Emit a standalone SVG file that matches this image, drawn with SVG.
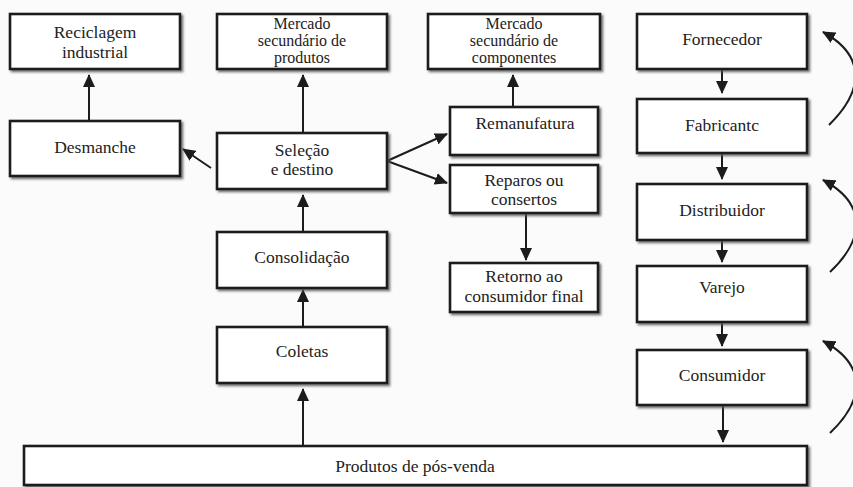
<svg xmlns="http://www.w3.org/2000/svg" width="853" height="487" viewBox="0 0 853 487" font-family="Liberation Serif, serif" font-size="17.5" text-anchor="middle">
<defs>
<style>
.box{fill:#ffffff;stroke:#1c1c1c;stroke-width:2.6;filter:url(#sh)}
text{fill:#222}
.s{font-size:16px}
.c{fill:none;stroke:#1c1c1c;stroke-width:2;marker-end:url(#ah)}
</style>
<filter id="sh" x="-5%" y="-10%" width="115%" height="130%">
<feDropShadow dx="2" dy="2" stdDeviation="1.2" flood-color="#555" flood-opacity="0.8"/>
</filter>
<marker id="ah" viewBox="0 0 13 12" refX="12" refY="6" markerWidth="13" markerHeight="12" markerUnits="userSpaceOnUse" orient="auto">
<path d="M0,0 L13,6 L0,12 z" fill="#1c1c1c"/>
</marker>
</defs>
<rect width="853" height="487" fill="#fbfbfb"/>

<g id="connectors">
<line class="c" x1="89" y1="121" x2="89" y2="75"/>
<line class="c" x1="303" y1="133" x2="303" y2="75"/>
<line class="c" x1="211" y1="168" x2="183" y2="149"/>
<line class="c" x1="303" y1="232" x2="303" y2="195"/>
<line class="c" x1="303" y1="327" x2="303" y2="290"/>
<line class="c" x1="303" y1="446" x2="303" y2="389"/>
<line class="c" x1="387" y1="161" x2="447" y2="134"/>
<line class="c" x1="387" y1="161" x2="447" y2="183"/>
<line class="c" x1="513" y1="107" x2="513" y2="75"/>
<line class="c" x1="526" y1="213" x2="526" y2="260"/>
<line class="c" x1="722" y1="69" x2="722" y2="93"/>
<line class="c" x1="722" y1="153" x2="722" y2="179"/>
<line class="c" x1="722" y1="240" x2="722" y2="262"/>
<line class="c" x1="722" y1="322" x2="722" y2="346"/>
<line class="c" x1="723" y1="405" x2="723" y2="442"/>
<path class="c" d="M829,125 C865,90 865,55 823,32"/>
<path class="c" d="M830,272 C866,238 866,203 823,180"/>
<path class="c" d="M830,433 C866,399 866,364 823,341"/>
</g>

<g id="reciclagem"><rect class="box" x="10" y="14" width="170" height="55"/>
<text x="95" y="38">Reciclagem</text><text x="95" y="58">industrial</text></g>

<g id="mercado-produtos"><rect class="box" x="217" y="14" width="170" height="55"/>
<text class="s" x="302" y="29">Mercado</text><text class="s" x="302" y="46">secundário de</text><text class="s" x="302" y="63">produtos</text></g>

<g id="mercado-componentes"><rect class="box" x="428" y="14" width="172" height="55"/>
<text class="s" x="514" y="29">Mercado</text><text class="s" x="514" y="46">secundário de</text><text class="s" x="514" y="63">componentes</text></g>

<g id="desmanche"><rect class="box" x="10" y="121" width="170" height="55"/>
<text x="95" y="153">Desmanche</text></g>

<g id="selecao"><rect class="box" x="217" y="133" width="170" height="56"/>
<text x="302" y="156">Seleção</text><text x="302" y="175">e destino</text></g>

<g id="consolidacao"><rect class="box" x="217" y="232" width="170" height="56"/>
<text x="302" y="263">Consolidação</text></g>

<g id="coletas"><rect class="box" x="217" y="327" width="170" height="56"/>
<text x="302" y="357">Coletas</text></g>

<g id="remanufatura"><rect class="box" x="450" y="107" width="148" height="48"/>
<text x="525" y="129">Remanufatura</text></g>

<g id="reparos"><rect class="box" x="450" y="165" width="148" height="48"/>
<text x="524" y="186">Reparos ou</text><text x="524" y="205">consertos</text></g>

<g id="retorno"><rect class="box" x="450" y="263" width="148" height="49"/>
<text x="524" y="282">Retorno ao</text><text x="524" y="302">consumidor final</text></g>

<g id="fornecedor"><rect class="box" x="637" y="14" width="170" height="55"/>
<text x="722" y="45">Fornecedor</text></g>

<g id="fabricante"><rect class="box" x="637" y="99" width="170" height="54"/>
<text x="722" y="131">Fabricantc</text></g>

<g id="distribuidor"><rect class="box" x="637" y="184" width="170" height="56"/>
<text x="722" y="216">Distribuidor</text></g>

<g id="varejo"><rect class="box" x="637" y="266" width="170" height="56"/>
<text x="722" y="293">Varejo</text></g>

<g id="consumidor"><rect class="box" x="637" y="350" width="170" height="55"/>
<text x="722" y="381">Consumidor</text></g>

<g id="produtos"><rect class="box" x="24" y="446" width="783" height="39"/>
<text x="415" y="472">Produtos de pós-venda</text></g>
</svg>
